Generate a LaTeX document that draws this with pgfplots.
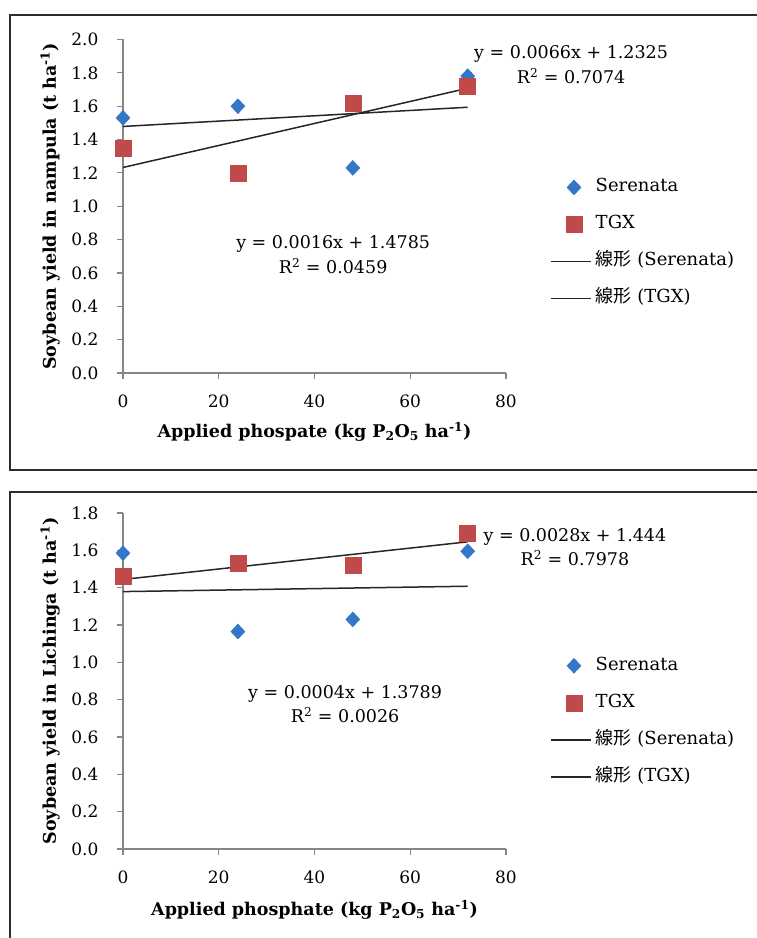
\documentclass[border=0pt]{standalone}
\usepackage{pgfplots}
\pgfplotsset{compat=1.18}
\usepackage{fontspec}
\setmainfont{DejaVu Serif}
\newfontfamily\jp{Noto Sans CJK JP}
\definecolor{serblue}{RGB}{52,118,200}
\definecolor{tgxred}{RGB}{192,74,74}
\definecolor{axgray}{RGB}{134,134,134}
\definecolor{framec}{RGB}{45,45,45}

\pgfplotsset{
  mystyle/.style={
    scale only axis, width=383pt,
    axis lines=left, axis line style={-, axgray, line width=1.3pt},
    xmin=0, xmax=80, ymin=0,
    xtick={0,20,...,80},
    tick align=outside, major tick length=6pt,
    tick style={axgray, line width=1.2pt},
    every tick label/.append style={font=\fontsize{17}{17}\selectfont},
    x tick label style={yshift=-12pt},
    /pgf/number format/assume math mode=true,
    y tick label style={xshift=-15pt, /pgf/number format/fixed, /pgf/number format/fixed zerofill, /pgf/number format/precision=1},
    clip=false,
    legend cell align=left,
    legend style={draw=none, fill=none, anchor=west, inner sep=0pt,
      font=\fontsize{18}{18}\selectfont, row sep=16pt,
      nodes={inner sep=2pt, text height=13pt, text depth=4pt}},
    label style={font=\bfseries\fontsize{17.5}{17.5}\selectfont},
    xlabel style={at={(axis description cs:0.5,-0.177)}, anchor=center},
    ylabel style={at={(axis description cs:-0.19,0.5)}, anchor=center},
  },
  marklegend/.style={legend image code/.code={\path (0pt,0pt) (42pt,0pt);\draw[##1, mark repeat=2, mark phase=2] plot coordinates {(0pt,0pt)(23pt,0pt)(42pt,0pt)};}},
  linelegend/.style={legend image code/.code={\path (0pt,-8pt) (0pt,8pt) (42pt,0pt);\draw[##1] (0pt,0pt) -- (40pt,0pt);}},
  ser/.style={only marks, mark=diamond*, mark size=7.5pt, mark options={xscale=1.25, draw=serblue, fill=serblue}, marklegend},
  tgx/.style={only marks, mark=square*, mark size=8pt, mark options={draw=tgxred, fill=tgxred}, marklegend},
  trend/.style={black!85, line width=1.5pt, no marks, linelegend},
}

\begin{document}
\begin{tikzpicture}
\useasboundingbox (0,0) rectangle (757pt,938pt);
% frames
\draw[framec, line width=2pt] (765pt,923pt) -- (10pt,923pt) -- (10pt,468pt) -- (765pt,468pt);
\draw[framec, line width=2pt] (765pt,446pt) -- (10pt,446pt) -- (10pt,-10pt);

% top panel
\begin{axis}[mystyle, at={(123pt,565pt)}, anchor=south west,
  height=333.5pt, ymax=2, ytick={0,0.2,...,2.01},
  xlabel={Applied phospate (kg P\textsubscript{2}O\textsubscript{5} ha\textsuperscript{-1})},
  ylabel={Soybean yield in nampula (t ha\textsuperscript{-1})},
  legend style={at={(axis description cs:1.115,0.39)}},
]
\addplot[ser] coordinates {(0,1.53) (24,1.60) (48,1.23) (72,1.78)};
\addlegendentry{Serenata}
\addplot[tgx] coordinates {(0,1.35) (24,1.20) (48,1.62) (72,1.72)};
\addlegendentry{TGX}
\addplot[trend] coordinates {(0,1.4785) (72,1.5937)};
\addlegendentry{{\jp 線形} (Serenata)}
\addplot[trend] coordinates {(0,1.2325) (72,1.7077)};
\addlegendentry{{\jp 線形} (TGX)}
\node[align=center, font=\fontsize{17.5}{25}\selectfont] at (axis cs:93.6,1.85) {y = 0.0066x + 1.2325\\R\textsuperscript{2} = 0.7074};
\node[align=center, font=\fontsize{17.5}{25}\selectfont] at (axis cs:43.9,0.711) {y = 0.0016x + 1.4785\\R\textsuperscript{2} = 0.0459};
\end{axis}

% bottom panel
\begin{axis}[mystyle, at={(123pt,89pt)}, anchor=south west,
  height=336pt, ymax=1.8, ytick={0,0.2,...,1.81},
  xlabel={Applied phosphate (kg P\textsubscript{2}O\textsubscript{5} ha\textsuperscript{-1})},
  ylabel={Soybean yield in Lichinga (t ha\textsuperscript{-1})},
  xlabel style={at={(axis description cs:0.5,-0.1815)}},
  legend style={at={(axis description cs:1.115,0.38)}},
]
\addplot[ser] coordinates {(0,1.585) (24,1.165) (48,1.23) (72,1.595)};
\addlegendentry{Serenata}
\addplot[tgx] coordinates {(0,1.46) (24,1.53) (48,1.52) (72,1.69)};
\addlegendentry{TGX}
\addplot[trend] coordinates {(0,1.3789) (72,1.4077)};
\addlegendentry{{\jp 線形} (Serenata)}
\addplot[trend] coordinates {(0,1.444) (72,1.6456)};
\addlegendentry{{\jp 線形} (TGX)}
\node[align=center, font=\fontsize{17.5}{24}\selectfont] at (axis cs:94.4,1.618) {y = 0.0028x + 1.444\\R\textsuperscript{2} = 0.7978};
\node[align=center, font=\fontsize{17.5}{24}\selectfont] at (axis cs:46.4,0.774) {y = 0.0004x + 1.3789\\R\textsuperscript{2} = 0.0026};
\end{axis}
\end{tikzpicture}
\end{document}
